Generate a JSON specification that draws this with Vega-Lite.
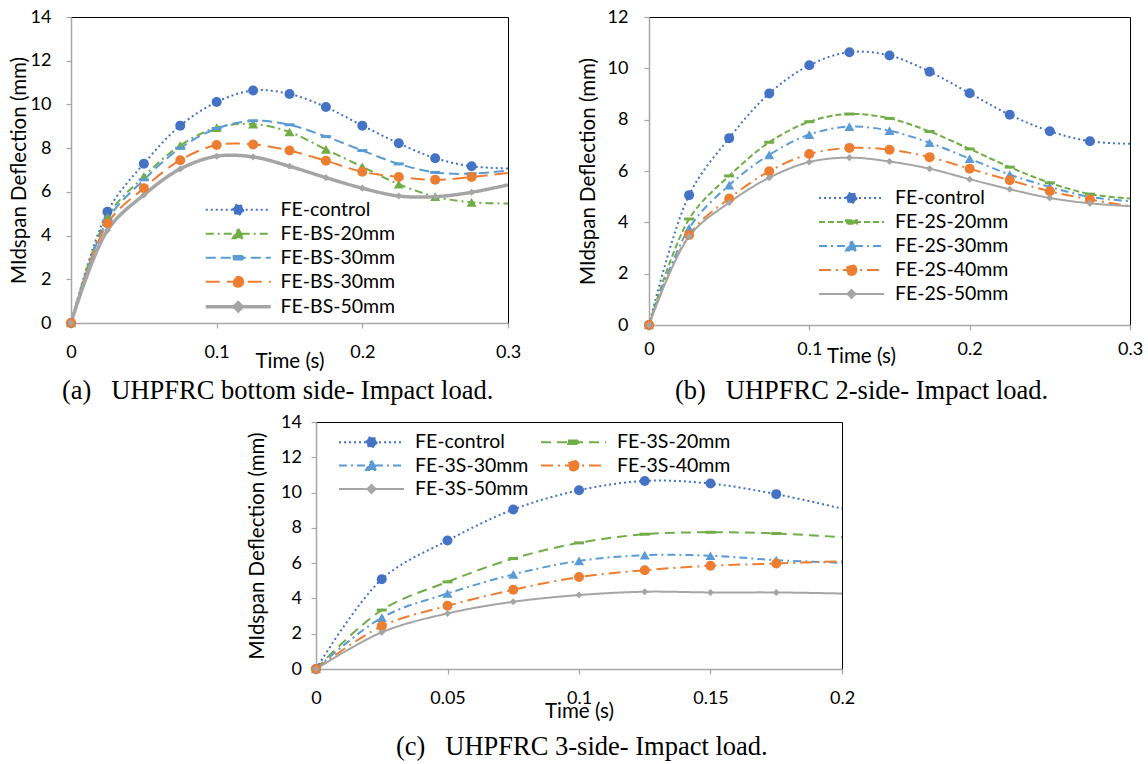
{
  "$schema": "https://vega.github.io/schema/vega-lite/v6.json",
  "padding": {"left": 8, "top": 7, "right": 2, "bottom": 4},
  "config": {
    "view": {"stroke": "#000000", "strokeWidth": 1},
    "font": "Lato",
    "axis": {"grid": false, "domainColor": "#A6A6A6", "domainWidth": 1.5, "tickColor": "#A6A6A6", "tickSize": 5, "tickWidth": 1.2, "labelFont": "Lato", "labelFontSize": 18, "labelColor": "#000000", "titleFont": "Lato", "titleFontSize": 20.5, "titleFontWeight": "normal", "titleColor": "#000000", "labelPadding": 15, "labelFlush": false, "labelOverlap": false},
    "title": {"font": "Liberation Serif", "fontSize": 26.5, "fontWeight": "normal", "color": "#000000", "frame": "group"},
    "legend": {"title": null, "orient": "none", "symbolSize": 400, "labelOffset": 55, "rowPadding": 3, "padding": 0, "labelFont": "Lato", "labelFontSize": 19.5, "labelColor": "#000000"}
  },
  "datasets": {
    "a": [
      {"s": "FE-control", "t": 0, "d": 0}, {"s": "FE-control", "t": 0.025, "d": 5.09}, {"s": "FE-control", "t": 0.05, "d": 7.29}, {"s": "FE-control", "t": 0.075, "d": 9.03}, {"s": "FE-control", "t": 0.1, "d": 10.11}, {"s": "FE-control", "t": 0.125, "d": 10.64}, {"s": "FE-control", "t": 0.15, "d": 10.48}, {"s": "FE-control", "t": 0.175, "d": 9.88}, {"s": "FE-control", "t": 0.2, "d": 9.03}, {"s": "FE-control", "t": 0.225, "d": 8.22}, {"s": "FE-control", "t": 0.25, "d": 7.54}, {"s": "FE-control", "t": 0.275, "d": 7.17}, {"s": "FE-control", "t": 0.3, "d": 7.07},
      {"s": "FE-BS-20mm", "t": 0, "d": 0}, {"s": "FE-BS-20mm", "t": 0.025, "d": 4.85}, {"s": "FE-BS-20mm", "t": 0.05, "d": 6.7}, {"s": "FE-BS-20mm", "t": 0.075, "d": 8.12}, {"s": "FE-BS-20mm", "t": 0.1, "d": 8.94}, {"s": "FE-BS-20mm", "t": 0.125, "d": 9.1}, {"s": "FE-BS-20mm", "t": 0.15, "d": 8.74}, {"s": "FE-BS-20mm", "t": 0.175, "d": 7.94}, {"s": "FE-BS-20mm", "t": 0.2, "d": 7.15}, {"s": "FE-BS-20mm", "t": 0.225, "d": 6.35}, {"s": "FE-BS-20mm", "t": 0.25, "d": 5.78}, {"s": "FE-BS-20mm", "t": 0.275, "d": 5.52}, {"s": "FE-BS-20mm", "t": 0.3, "d": 5.47},
      {"s": "FE-BS-30mm", "t": 0, "d": 0}, {"s": "FE-BS-30mm", "t": 0.025, "d": 4.7}, {"s": "FE-BS-30mm", "t": 0.05, "d": 6.55}, {"s": "FE-BS-30mm", "t": 0.075, "d": 8.0}, {"s": "FE-BS-30mm", "t": 0.1, "d": 8.9}, {"s": "FE-BS-30mm", "t": 0.125, "d": 9.25}, {"s": "FE-BS-30mm", "t": 0.15, "d": 9.07}, {"s": "FE-BS-30mm", "t": 0.175, "d": 8.53}, {"s": "FE-BS-30mm", "t": 0.2, "d": 7.89}, {"s": "FE-BS-30mm", "t": 0.225, "d": 7.28}, {"s": "FE-BS-30mm", "t": 0.25, "d": 6.89}, {"s": "FE-BS-30mm", "t": 0.275, "d": 6.83}, {"s": "FE-BS-30mm", "t": 0.3, "d": 6.98},
      {"s": "FE-BS-40mm", "t": 0, "d": 0}, {"s": "FE-BS-40mm", "t": 0.025, "d": 4.55}, {"s": "FE-BS-40mm", "t": 0.05, "d": 6.17}, {"s": "FE-BS-40mm", "t": 0.075, "d": 7.45}, {"s": "FE-BS-40mm", "t": 0.1, "d": 8.14}, {"s": "FE-BS-40mm", "t": 0.125, "d": 8.17}, {"s": "FE-BS-40mm", "t": 0.15, "d": 7.89}, {"s": "FE-BS-40mm", "t": 0.175, "d": 7.42}, {"s": "FE-BS-40mm", "t": 0.2, "d": 6.92}, {"s": "FE-BS-40mm", "t": 0.225, "d": 6.68}, {"s": "FE-BS-40mm", "t": 0.25, "d": 6.55}, {"s": "FE-BS-40mm", "t": 0.275, "d": 6.68}, {"s": "FE-BS-40mm", "t": 0.3, "d": 6.86},
      {"s": "FE-BS-50mm", "t": 0, "d": 0}, {"s": "FE-BS-50mm", "t": 0.025, "d": 4.24}, {"s": "FE-BS-50mm", "t": 0.05, "d": 5.86}, {"s": "FE-BS-50mm", "t": 0.075, "d": 7.05}, {"s": "FE-BS-50mm", "t": 0.1, "d": 7.63}, {"s": "FE-BS-50mm", "t": 0.125, "d": 7.6}, {"s": "FE-BS-50mm", "t": 0.15, "d": 7.17}, {"s": "FE-BS-50mm", "t": 0.175, "d": 6.65}, {"s": "FE-BS-50mm", "t": 0.2, "d": 6.17}, {"s": "FE-BS-50mm", "t": 0.225, "d": 5.81}, {"s": "FE-BS-50mm", "t": 0.25, "d": 5.78}, {"s": "FE-BS-50mm", "t": 0.275, "d": 5.98}, {"s": "FE-BS-50mm", "t": 0.3, "d": 6.32}
    ],
    "b": [
      {"s": "FE-control", "t": 0, "d": 0}, {"s": "FE-control", "t": 0.025, "d": 5.06}, {"s": "FE-control", "t": 0.05, "d": 7.28}, {"s": "FE-control", "t": 0.075, "d": 9.02}, {"s": "FE-control", "t": 0.1, "d": 10.12}, {"s": "FE-control", "t": 0.125, "d": 10.63}, {"s": "FE-control", "t": 0.15, "d": 10.5}, {"s": "FE-control", "t": 0.175, "d": 9.87}, {"s": "FE-control", "t": 0.2, "d": 9.03}, {"s": "FE-control", "t": 0.225, "d": 8.19}, {"s": "FE-control", "t": 0.25, "d": 7.55}, {"s": "FE-control", "t": 0.275, "d": 7.16}, {"s": "FE-control", "t": 0.3, "d": 7.06},
      {"s": "FE-2S-20mm", "t": 0, "d": 0}, {"s": "FE-2S-20mm", "t": 0.025, "d": 4.13}, {"s": "FE-2S-20mm", "t": 0.05, "d": 5.81}, {"s": "FE-2S-20mm", "t": 0.075, "d": 7.12}, {"s": "FE-2S-20mm", "t": 0.1, "d": 7.92}, {"s": "FE-2S-20mm", "t": 0.125, "d": 8.22}, {"s": "FE-2S-20mm", "t": 0.15, "d": 8.05}, {"s": "FE-2S-20mm", "t": 0.175, "d": 7.54}, {"s": "FE-2S-20mm", "t": 0.2, "d": 6.86}, {"s": "FE-2S-20mm", "t": 0.225, "d": 6.15}, {"s": "FE-2S-20mm", "t": 0.25, "d": 5.54}, {"s": "FE-2S-20mm", "t": 0.275, "d": 5.1}, {"s": "FE-2S-20mm", "t": 0.3, "d": 4.93},
      {"s": "FE-2S-30mm", "t": 0, "d": 0}, {"s": "FE-2S-30mm", "t": 0.025, "d": 3.77}, {"s": "FE-2S-30mm", "t": 0.05, "d": 5.45}, {"s": "FE-2S-30mm", "t": 0.075, "d": 6.63}, {"s": "FE-2S-30mm", "t": 0.1, "d": 7.42}, {"s": "FE-2S-30mm", "t": 0.125, "d": 7.73}, {"s": "FE-2S-30mm", "t": 0.15, "d": 7.57}, {"s": "FE-2S-30mm", "t": 0.175, "d": 7.1}, {"s": "FE-2S-30mm", "t": 0.2, "d": 6.48}, {"s": "FE-2S-30mm", "t": 0.225, "d": 5.86}, {"s": "FE-2S-30mm", "t": 0.25, "d": 5.38}, {"s": "FE-2S-30mm", "t": 0.275, "d": 4.99}, {"s": "FE-2S-30mm", "t": 0.3, "d": 4.83},
      {"s": "FE-2S-40mm", "t": 0, "d": 0}, {"s": "FE-2S-40mm", "t": 0.025, "d": 3.51}, {"s": "FE-2S-40mm", "t": 0.05, "d": 4.93}, {"s": "FE-2S-40mm", "t": 0.075, "d": 5.99}, {"s": "FE-2S-40mm", "t": 0.1, "d": 6.66}, {"s": "FE-2S-40mm", "t": 0.125, "d": 6.9}, {"s": "FE-2S-40mm", "t": 0.15, "d": 6.83}, {"s": "FE-2S-40mm", "t": 0.175, "d": 6.54}, {"s": "FE-2S-40mm", "t": 0.2, "d": 6.09}, {"s": "FE-2S-40mm", "t": 0.225, "d": 5.64}, {"s": "FE-2S-40mm", "t": 0.25, "d": 5.21}, {"s": "FE-2S-40mm", "t": 0.275, "d": 4.89}, {"s": "FE-2S-40mm", "t": 0.3, "d": 4.63},
      {"s": "FE-2S-50mm", "t": 0, "d": 0}, {"s": "FE-2S-50mm", "t": 0.025, "d": 3.45}, {"s": "FE-2S-50mm", "t": 0.05, "d": 4.77}, {"s": "FE-2S-50mm", "t": 0.075, "d": 5.74}, {"s": "FE-2S-50mm", "t": 0.1, "d": 6.35}, {"s": "FE-2S-50mm", "t": 0.125, "d": 6.52}, {"s": "FE-2S-50mm", "t": 0.15, "d": 6.37}, {"s": "FE-2S-50mm", "t": 0.175, "d": 6.09}, {"s": "FE-2S-50mm", "t": 0.2, "d": 5.68}, {"s": "FE-2S-50mm", "t": 0.225, "d": 5.29}, {"s": "FE-2S-50mm", "t": 0.25, "d": 4.95}, {"s": "FE-2S-50mm", "t": 0.275, "d": 4.74}, {"s": "FE-2S-50mm", "t": 0.3, "d": 4.63}
    ],
    "c": [
      {"s": "FE-control", "t": 0, "d": 0}, {"s": "FE-control", "t": 0.025, "d": 5.09}, {"s": "FE-control", "t": 0.05, "d": 7.28}, {"s": "FE-control", "t": 0.075, "d": 9.04}, {"s": "FE-control", "t": 0.1, "d": 10.13}, {"s": "FE-control", "t": 0.125, "d": 10.66}, {"s": "FE-control", "t": 0.15, "d": 10.51}, {"s": "FE-control", "t": 0.175, "d": 9.91}, {"s": "FE-control", "t": 0.2, "d": 9.09},
      {"s": "FE-3S-20mm", "t": 0, "d": 0}, {"s": "FE-3S-20mm", "t": 0.025, "d": 3.34}, {"s": "FE-3S-20mm", "t": 0.05, "d": 4.94}, {"s": "FE-3S-20mm", "t": 0.075, "d": 6.26}, {"s": "FE-3S-20mm", "t": 0.1, "d": 7.15}, {"s": "FE-3S-20mm", "t": 0.125, "d": 7.64}, {"s": "FE-3S-20mm", "t": 0.15, "d": 7.75}, {"s": "FE-3S-20mm", "t": 0.175, "d": 7.68}, {"s": "FE-3S-20mm", "t": 0.2, "d": 7.47},
      {"s": "FE-3S-30mm", "t": 0, "d": 0}, {"s": "FE-3S-30mm", "t": 0.025, "d": 2.91}, {"s": "FE-3S-30mm", "t": 0.05, "d": 4.28}, {"s": "FE-3S-30mm", "t": 0.075, "d": 5.36}, {"s": "FE-3S-30mm", "t": 0.1, "d": 6.13}, {"s": "FE-3S-30mm", "t": 0.125, "d": 6.45}, {"s": "FE-3S-30mm", "t": 0.15, "d": 6.42}, {"s": "FE-3S-30mm", "t": 0.175, "d": 6.17}, {"s": "FE-3S-30mm", "t": 0.2, "d": 6.02},
      {"s": "FE-3S-40mm", "t": 0, "d": 0}, {"s": "FE-3S-40mm", "t": 0.025, "d": 2.43}, {"s": "FE-3S-40mm", "t": 0.05, "d": 3.58}, {"s": "FE-3S-40mm", "t": 0.075, "d": 4.49}, {"s": "FE-3S-40mm", "t": 0.1, "d": 5.21}, {"s": "FE-3S-40mm", "t": 0.125, "d": 5.6}, {"s": "FE-3S-40mm", "t": 0.15, "d": 5.85}, {"s": "FE-3S-40mm", "t": 0.175, "d": 5.98}, {"s": "FE-3S-40mm", "t": 0.2, "d": 6.11},
      {"s": "FE-3S-50mm", "t": 0, "d": 0}, {"s": "FE-3S-50mm", "t": 0.025, "d": 2.08}, {"s": "FE-3S-50mm", "t": 0.05, "d": 3.15}, {"s": "FE-3S-50mm", "t": 0.075, "d": 3.81}, {"s": "FE-3S-50mm", "t": 0.1, "d": 4.19}, {"s": "FE-3S-50mm", "t": 0.125, "d": 4.38}, {"s": "FE-3S-50mm", "t": 0.15, "d": 4.34}, {"s": "FE-3S-50mm", "t": 0.175, "d": 4.34}, {"s": "FE-3S-50mm", "t": 0.2, "d": 4.28}
    ]
  },
  "spacing": 7,
  "resolve": {"scale": {"color": "independent", "strokeDash": "independent", "x": "independent", "y": "independent"}, "legend": {"color": "independent"}},
  "vconcat": [
    {
      "spacing": 55,
      "resolve": {"scale": {"color": "independent", "strokeDash": "independent", "x": "independent", "y": "independent"}, "legend": {"color": "independent"}},
      "hconcat": [
        {
          "width": 437, "height": 306,
          "data": {"name": "a"},
          "title": {"text": "(a)\u00a0\u00a0\u00a0UHPFRC bottom side- Impact load.", "orient": "bottom", "anchor": "start", "dx": -9, "offset": 6.5},
          "encoding": {
            "x": {"field": "t", "type": "quantitative", "scale": {"domain": [0, 0.3], "nice": false}, "axis": {"values": [0, 0.1, 0.2, 0.3], "format": "~g", "title": "Time (s)", "labelPadding": 15, "titlePadding": -10}},
            "y": {"field": "d", "type": "quantitative", "scale": {"domain": [0, 14], "nice": false}, "axis": {"values": [0, 2, 4, 6, 8, 10, 12, 14], "title": "MIdspan Deflection (mm)", "labelPadding": 15, "titlePadding": 1}},
            "color": {"field": "s", "type": "nominal", "scale": {"domain": ["FE-control", "FE-BS-20mm", "FE-BS-30mm", "FE-BS-40mm", "FE-BS-50mm"], "range": ["#4472C4", "#70AD47", "#5B9BD5", "#ED7D31", "#A5A5A5"]},
              "legend": {"legendX": 135, "legendY": 183, "rowPadding": 3,
                "labelExpr": "datum.label == 'FE-BS-40mm' ? 'FE-BS-30mm' : datum.label",
                "encode": {"symbols": {"update": {
                  "shape": {"signal": "['M-1,0H5.5M2.75,0A0.5,0.5,0,1,1,1.75,0A0.5,0.5,0,1,1,2.75,0Z','M-1,0H5.5M2.25,-0.5L2.8,0.45L1.7,0.45Z','M-1,0H5.5M1.7,-0.17H2.8V0.17H1.7Z','M-1,0H5.5M2.75,0A0.5,0.5,0,1,1,1.75,0A0.5,0.5,0,1,1,2.75,0Z','M-1,0H5.5M2.25,-0.4L2.65,0L2.25,0.4L1.85,0Z'][indexof(['FE-control','FE-BS-20mm','FE-BS-30mm','FE-BS-40mm','FE-BS-50mm'], datum.value)]"},
                  "fill": {"signal": "['#4472C4','#70AD47','#5B9BD5','#ED7D31','#A5A5A5'][indexof(['FE-control','FE-BS-20mm','FE-BS-30mm','FE-BS-40mm','FE-BS-50mm'], datum.value)]"},
                  "stroke": {"signal": "['#4472C4','#70AD47','#5B9BD5','#ED7D31','#A5A5A5'][indexof(['FE-control','FE-BS-20mm','FE-BS-30mm','FE-BS-40mm','FE-BS-50mm'], datum.value)]"},
                  "strokeDash": {"signal": "[[2,3],[8,4,2,4],[10,5],[14,7],[1,0]][indexof(['FE-control','FE-BS-20mm','FE-BS-30mm','FE-BS-40mm','FE-BS-50mm'], datum.value)]"},
                  "strokeWidth": {"signal": "datum.value == 'FE-BS-50mm' ? 3.5 : 2"},
                  "size": {"value": 400},
                  "opacity": {"value": 1}
                }}}
              }}
          },
          "layer": [
            {
              "mark": {"type": "line", "interpolate": "catmull-rom", "clip": true},
              "encoding": {
                "strokeDash": {"field": "s", "type": "nominal", "scale": {"domain": ["FE-control", "FE-BS-20mm", "FE-BS-30mm", "FE-BS-40mm", "FE-BS-50mm"], "range": [[2, 3], [8, 4, 2, 4], [10, 5], [14, 7], [1, 0]]}, "legend": null},
                "strokeWidth": {"condition": {"test": "datum.s == 'FE-BS-50mm'", "value": 3.5}, "value": 2}
              }
            },
            {
              "transform": [{"filter": "datum.t < 0.29"}],
              "mark": {"type": "point", "filled": true, "opacity": 1},
              "encoding": {
                "shape": {"condition": [{"test": "datum.s == 'FE-BS-20mm'", "value": "triangle-up"}, {"test": "datum.s == 'FE-BS-30mm'", "value": "M-1,-0.3H1V0.3H-1Z"}, {"test": "datum.s == 'FE-BS-50mm'", "value": "diamond"}], "value": "circle"},
                "size": {"condition": {"test": "datum.s == 'FE-BS-50mm'", "value": 50}, "value": 100}
              }
            }
          ]
        },
        {
          "width": 481, "height": 308,
          "data": {"name": "b"},
          "title": {"text": "(b)\u00a0\u00a0\u00a0UHPFRC 2-side- Impact load.", "orient": "bottom", "anchor": "start", "dx": 26, "offset": 11.5},
          "encoding": {
            "x": {"field": "t", "type": "quantitative", "scale": {"domain": [0, 0.3], "nice": false}, "axis": {"values": [0, 0.1, 0.2, 0.3], "format": "~g", "title": "Time (s)", "labelPadding": 10, "titlePadding": -12, "titleX": 212}},
            "y": {"field": "d", "type": "quantitative", "scale": {"domain": [0, 12], "nice": false}, "axis": {"values": [0, 2, 4, 6, 8, 10, 12], "title": "MIdspan Deflection (mm)", "labelPadding": 16, "titlePadding": 9}},
            "color": {"field": "s", "type": "nominal", "scale": {"domain": ["FE-control", "FE-2S-20mm", "FE-2S-30mm", "FE-2S-40mm", "FE-2S-50mm"], "range": ["#4472C4", "#70AD47", "#5B9BD5", "#ED7D31", "#A5A5A5"]},
              "legend": {"legendX": 169, "legendY": 170, "rowPadding": 3,
                "encode": {"symbols": {"update": {
                  "shape": {"signal": "['M-1,0H5.5M2.75,0A0.5,0.5,0,1,1,1.75,0A0.5,0.5,0,1,1,2.75,0Z','M-1,0H5.5M1.7,-0.17H2.8V0.17H1.7Z','M-1,0H5.5M2.25,-0.5L2.8,0.45L1.7,0.45Z','M-1,0H5.5M2.75,0A0.5,0.5,0,1,1,1.75,0A0.5,0.5,0,1,1,2.75,0Z','M-1,0H5.5M2.25,-0.4L2.65,0L2.25,0.4L1.85,0Z'][indexof(['FE-control','FE-2S-20mm','FE-2S-30mm','FE-2S-40mm','FE-2S-50mm'], datum.value)]"},
                  "fill": {"signal": "['#4472C4','#70AD47','#5B9BD5','#ED7D31','#A5A5A5'][indexof(['FE-control','FE-2S-20mm','FE-2S-30mm','FE-2S-40mm','FE-2S-50mm'], datum.value)]"},
                  "stroke": {"signal": "['#4472C4','#70AD47','#5B9BD5','#ED7D31','#A5A5A5'][indexof(['FE-control','FE-2S-20mm','FE-2S-30mm','FE-2S-40mm','FE-2S-50mm'], datum.value)]"},
                  "strokeDash": {"signal": "[[2,3],[6,3],[8,4,2,4],[12,5,2,5],[1,0]][indexof(['FE-control','FE-2S-20mm','FE-2S-30mm','FE-2S-40mm','FE-2S-50mm'], datum.value)]"},
                  "strokeWidth": {"value": 2},
                  "size": {"value": 400},
                  "opacity": {"value": 1}
                }}}
              }}
          },
          "layer": [
            {
              "mark": {"type": "line", "interpolate": "catmull-rom", "clip": true, "strokeWidth": 2},
              "encoding": {
                "strokeDash": {"field": "s", "type": "nominal", "scale": {"domain": ["FE-control", "FE-2S-20mm", "FE-2S-30mm", "FE-2S-40mm", "FE-2S-50mm"], "range": [[2, 3], [6, 3], [8, 4, 2, 4], [12, 5, 2, 5], [1, 0]]}, "legend": null}
              }
            },
            {
              "transform": [{"filter": "datum.t < 0.29"}],
              "mark": {"type": "point", "filled": true, "opacity": 1},
              "encoding": {
                "shape": {"condition": [{"test": "datum.s == 'FE-2S-20mm'", "value": "M-1,-0.3H1V0.3H-1Z"}, {"test": "datum.s == 'FE-2S-30mm'", "value": "triangle-up"}, {"test": "datum.s == 'FE-2S-50mm'", "value": "diamond"}], "value": "circle"},
                "size": {"condition": {"test": "datum.s == 'FE-2S-50mm'", "value": 50}, "value": 100}
              }
            }
          ]
        }
      ]
    },
    {
      "spacing": 0,
      "resolve": {"scale": {"color": "independent", "strokeDash": "independent", "x": "independent", "y": "independent"}, "legend": {"color": "independent"}},
      "hconcat": [
        {
          "width": 176, "height": 247,
          "view": {"stroke": null, "fill": "#ffffff"},
          "data": {"values": []},
          "mark": {"type": "point", "opacity": 0},
          "encoding": {}
        },
        {
          "width": 526, "height": 247,
          "data": {"name": "c"},
          "title": {"text": "(c)\u00a0\u00a0\u00a0UHPFRC 3-side- Impact load.", "orient": "bottom", "anchor": "start", "dx": 80, "offset": 12.5},
          "encoding": {
            "x": {"field": "t", "type": "quantitative", "scale": {"domain": [0, 0.2], "nice": false}, "axis": {"values": [0, 0.05, 0.1, 0.15, 0.2], "format": "~g", "title": "Time (s)", "labelPadding": 15, "titlePadding": -6}},
            "y": {"field": "d", "type": "quantitative", "scale": {"domain": [0, 14], "nice": false}, "axis": {"values": [0, 2, 4, 6, 8, 10, 12, 14], "title": "MIdspan Deflection (mm)", "labelPadding": 9.5, "titlePadding": 13}},
            "color": {"field": "s", "type": "nominal", "scale": {"domain": ["FE-control", "FE-3S-30mm", "FE-3S-50mm", "FE-3S-20mm", "FE-3S-40mm"], "range": ["#4472C4", "#5B9BD5", "#A5A5A5", "#70AD47", "#ED7D31"]},
              "legend": {"legendX": 22, "legendY": 9, "columns": 2, "columnPadding": 8, "rowPadding": 2.5,
                "encode": {"symbols": {"update": {
                  "shape": {"signal": "['M-1,0H5.5M2.75,0A0.5,0.5,0,1,1,1.75,0A0.5,0.5,0,1,1,2.75,0Z','M-1,0H5.5M1.7,-0.17H2.8V0.17H1.7Z','M-1,0H5.5M2.25,-0.5L2.8,0.45L1.7,0.45Z','M-1,0H5.5M2.75,0A0.5,0.5,0,1,1,1.75,0A0.5,0.5,0,1,1,2.75,0Z','M-1,0H5.5M2.25,-0.4L2.65,0L2.25,0.4L1.85,0Z'][indexof(['FE-control','FE-3S-20mm','FE-3S-30mm','FE-3S-40mm','FE-3S-50mm'], datum.value)]"},
                  "fill": {"signal": "['#4472C4','#70AD47','#5B9BD5','#ED7D31','#A5A5A5'][indexof(['FE-control','FE-3S-20mm','FE-3S-30mm','FE-3S-40mm','FE-3S-50mm'], datum.value)]"},
                  "stroke": {"signal": "['#4472C4','#70AD47','#5B9BD5','#ED7D31','#A5A5A5'][indexof(['FE-control','FE-3S-20mm','FE-3S-30mm','FE-3S-40mm','FE-3S-50mm'], datum.value)]"},
                  "strokeDash": {"signal": "[[2,3],[10,6],[8,4,2,4],[12,5,2,5],[1,0]][indexof(['FE-control','FE-3S-20mm','FE-3S-30mm','FE-3S-40mm','FE-3S-50mm'], datum.value)]"},
                  "strokeWidth": {"value": 2},
                  "size": {"value": 400},
                  "opacity": {"value": 1}
                }}}
              }}
          },
          "layer": [
            {
              "mark": {"type": "line", "interpolate": "catmull-rom", "clip": true, "strokeWidth": 2},
              "encoding": {
                "strokeDash": {"field": "s", "type": "nominal", "scale": {"domain": ["FE-control", "FE-3S-20mm", "FE-3S-30mm", "FE-3S-40mm", "FE-3S-50mm"], "range": [[2, 3], [10, 6], [8, 4, 2, 4], [12, 5, 2, 5], [1, 0]]}, "legend": null}
              }
            },
            {
              "transform": [{"filter": "datum.t < 0.19"}],
              "mark": {"type": "point", "filled": true, "opacity": 1},
              "encoding": {
                "shape": {"condition": [{"test": "datum.s == 'FE-3S-20mm'", "value": "M-1,-0.3H1V0.3H-1Z"}, {"test": "datum.s == 'FE-3S-30mm'", "value": "triangle-up"}, {"test": "datum.s == 'FE-3S-50mm'", "value": "diamond"}], "value": "circle"},
                "size": {"condition": {"test": "datum.s == 'FE-3S-50mm'", "value": 50}, "value": 100}
              }
            }
          ]
        }
      ]
    }
  ]
}
